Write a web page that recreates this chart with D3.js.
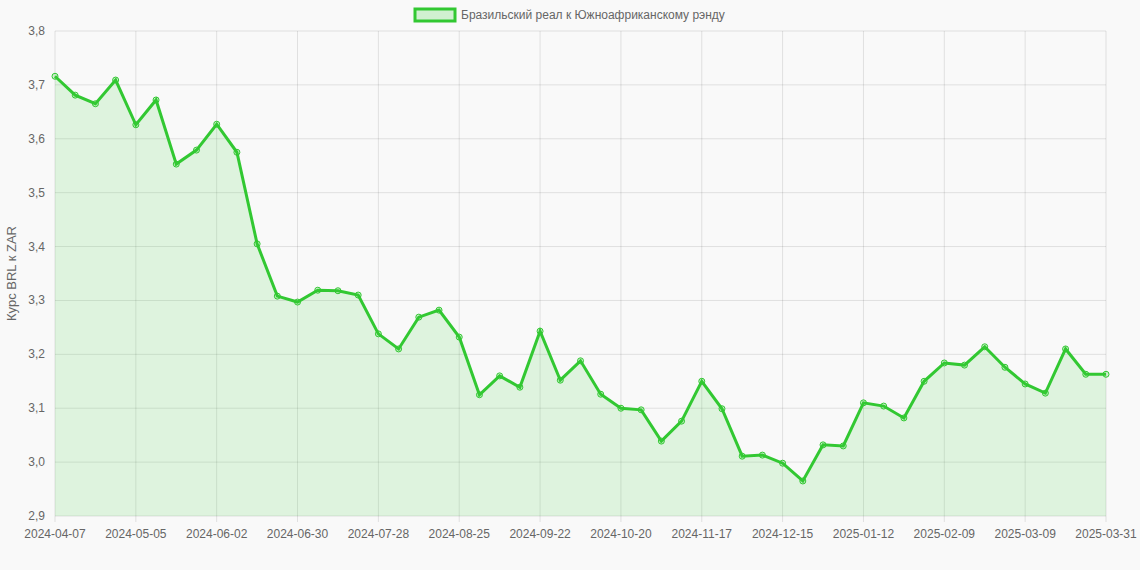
<!DOCTYPE html>
<html><head><meta charset="utf-8">
<script src="https://cdn.jsdelivr.net/npm/d3@7"></script>
<style>body{margin:0;background:#f9f9f9;font-family:"Liberation Sans",Arial,sans-serif}</style>
</head><body><svg id="c" width="1140" height="570"></svg>
<script>
const values=[3.716,3.681,3.665,3.709,3.626,3.672,3.553,3.579,3.627,3.575,3.405,3.308,3.297,3.319,3.318,3.310,3.238,3.210,3.269,3.282,3.232,3.125,3.160,3.139,3.243,3.152,3.188,3.126,3.100,3.097,3.039,3.076,3.150,3.099,3.011,3.013,2.998,2.965,3.032,3.030,3.110,3.104,3.082,3.150,3.184,3.180,3.214,3.176,3.145,3.128,3.210,3.163,3.163];
const yTicks=[2.9,3.0,3.1,3.2,3.3,3.4,3.5,3.6,3.7,3.8];
const startDate=new Date(Date.UTC(2024,3,7));
const dates=values.map((v,i)=>{const d=new Date(startDate.getTime()+i*7*864e5);return d.toISOString().slice(0,10);});
dates[dates.length-1]="2025-03-31";
const seriesName="Бразильский реал к Южноафриканскому рэнду";
const yTitle="Курс BRL к ZAR";

const svg=d3.select("#c");
const L=55,R=1106,T=31,B=516;
const x=d3.scalePoint().domain(dates).range([L,R]);
const y=d3.scaleLinear().domain([2.9,3.8]).range([B,T]);
const grid="rgba(0,0,0,0.1)";
const xt=dates.filter((d,i)=>i%4===0||i===dates.length-1);
svg.append("g").selectAll("line").data(yTicks).join("line")
 .attr("x1",L).attr("x2",R).attr("y1",d=>y(d)).attr("y2",d=>y(d)).attr("stroke",grid);
svg.append("g").selectAll("line").data(xt).join("line")
 .attr("x1",d=>x(d)).attr("x2",d=>x(d)).attr("y1",T).attr("y2",B+6).attr("stroke",grid);
svg.append("g").selectAll("text").data(yTicks).join("text")
 .attr("x",L-10).attr("y",d=>y(d)+4).attr("text-anchor","end").attr("font-size",12).attr("fill","#666")
 .text(d=>d.toFixed(1).replace(".",","));
svg.append("g").selectAll("text").data(xt).join("text")
 .attr("x",d=>x(d)).attr("y",B+22).attr("text-anchor","middle").attr("font-size",12).attr("fill","#666").text(d=>d);
svg.append("text").attr("transform",`translate(16,${(T+B)/2}) rotate(-90)`).attr("text-anchor","middle")
 .attr("font-size",13).attr("fill","#666").text(yTitle);
const area=d3.area().x((d,i)=>x(dates[i])).y0(B).y1(d=>y(d));
svg.append("path").datum(values).attr("d",area).attr("fill","rgba(50,205,50,0.13)");
const line=d3.line().x((d,i)=>x(dates[i])).y(d=>y(d));
svg.append("path").datum(values).attr("d",line).attr("fill","none").attr("stroke","#32c832").attr("stroke-width",3);
svg.append("g").selectAll("circle").data(values).join("circle")
 .attr("cx",(d,i)=>x(dates[i])).attr("cy",d=>y(d)).attr("r",3)
 .attr("fill","rgba(50,205,50,0.2)").attr("stroke","#32c832").attr("stroke-width",1);
svg.append("rect").attr("x",415).attr("y",9).attr("width",40).attr("height",12)
 .attr("fill","rgba(50,205,50,0.2)").attr("stroke","#32c832").attr("stroke-width",3);
svg.append("text").attr("x",461).attr("y",19).attr("font-size",12).attr("fill","#666").text(seriesName);
</script></body></html>
